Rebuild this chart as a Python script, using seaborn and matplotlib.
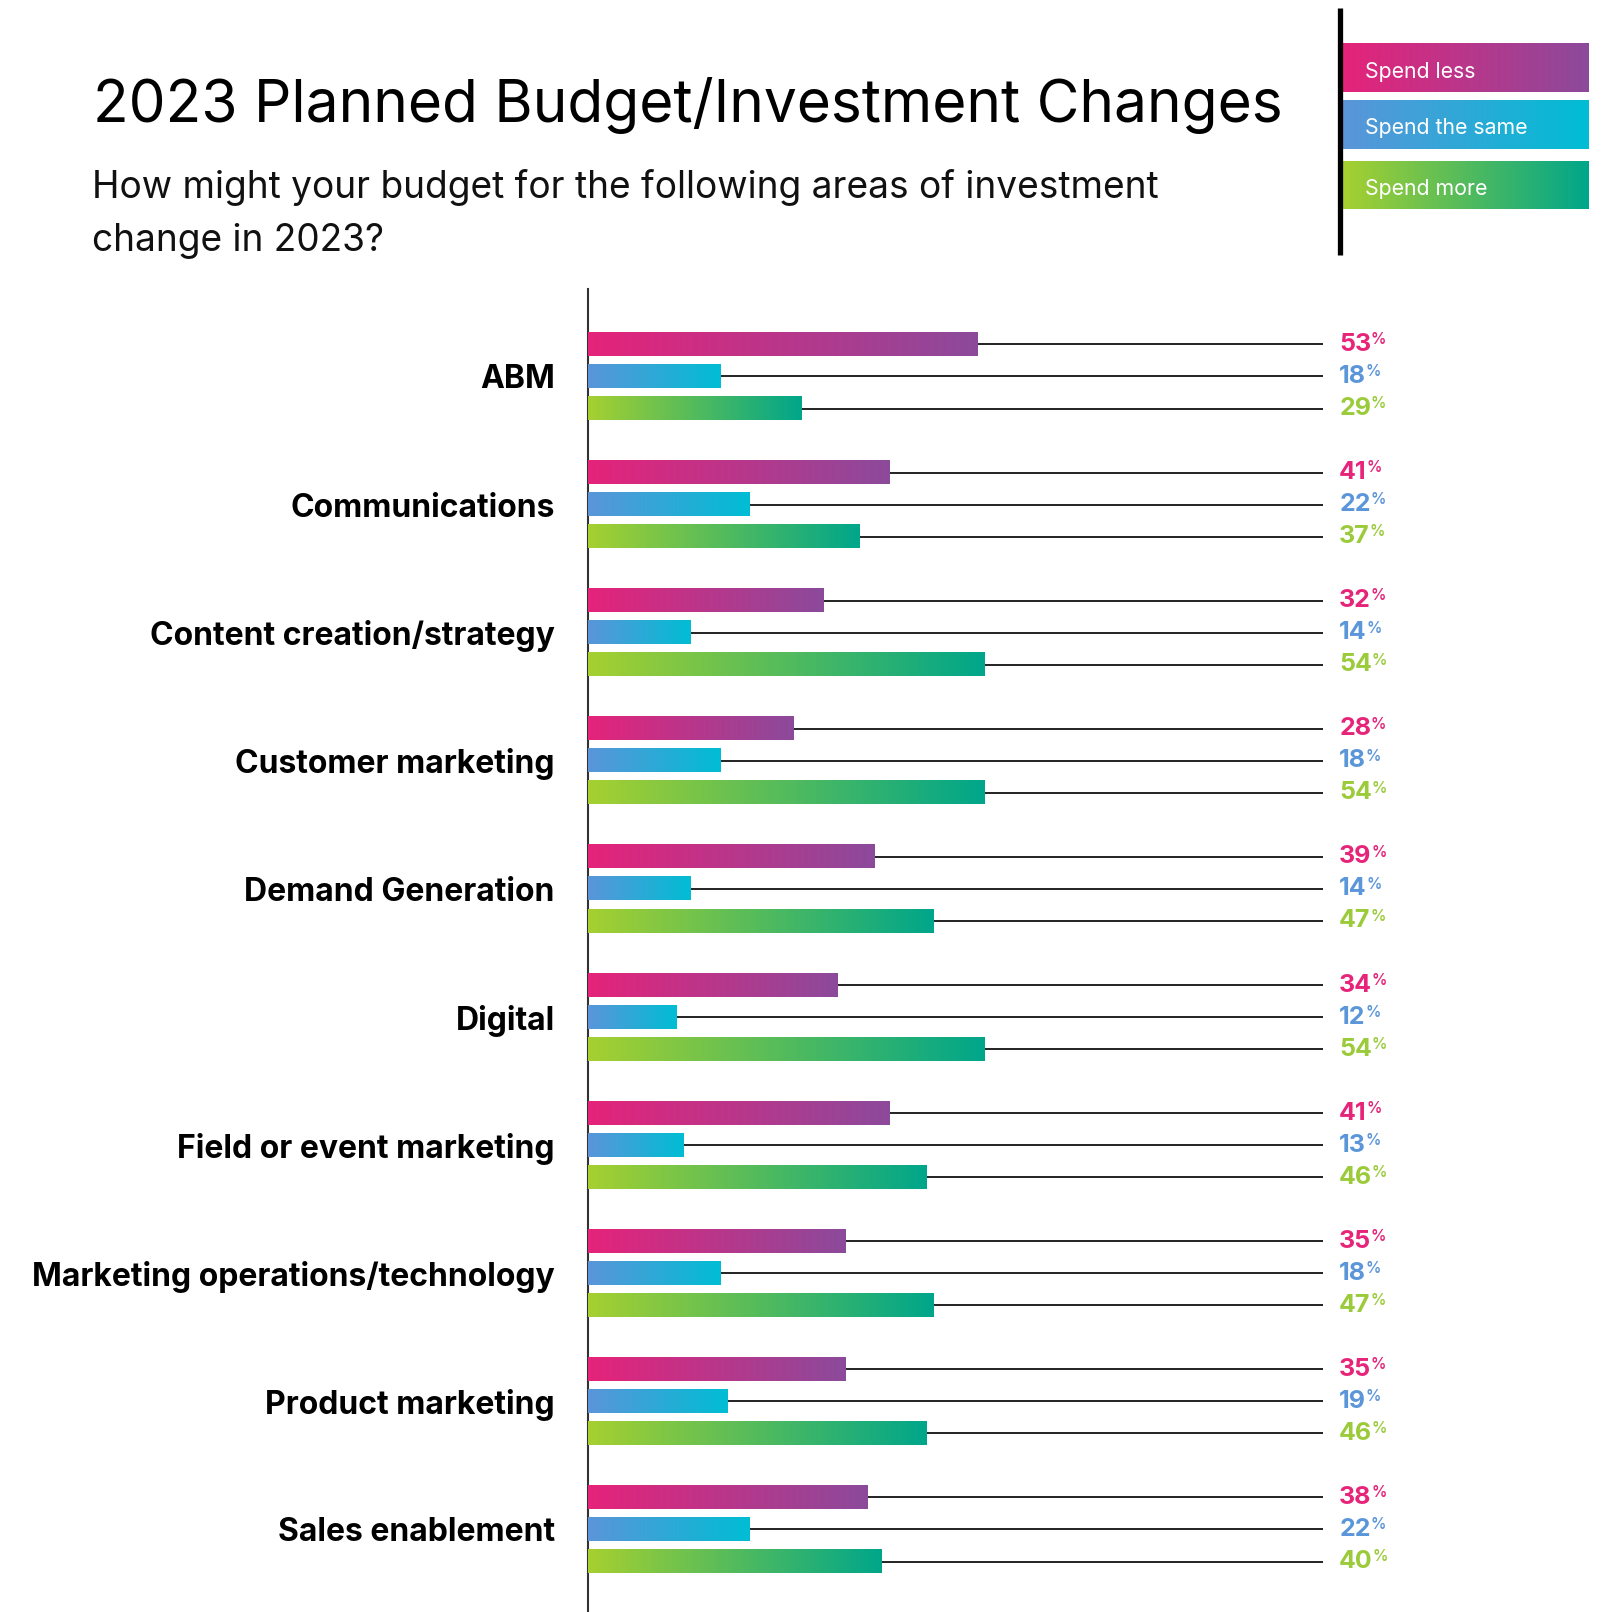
import numpy as np
import pandas as pd
import matplotlib
matplotlib.use("Agg")
import matplotlib.pyplot as plt
import matplotlib.colors as mcolors
import seaborn as sns

# ---- data ----
categories = [
    "ABM",
    "Communications",
    "Content creation/strategy",
    "Customer marketing",
    "Demand Generation",
    "Digital",
    "Field or event marketing",
    "Marketing operations/technology",
    "Product marketing",
    "Sales enablement",
]
plans = ["Spend less", "Spend the same", "Spend more"]
spend_less = [53, 41, 32, 28, 39, 34, 41, 35, 35, 38]
spend_same = [18, 22, 14, 18, 14, 12, 13, 18, 19, 22]
spend_more = [29, 37, 54, 54, 47, 54, 46, 47, 46, 40]

title = "2023 Planned Budget/Investment Changes"
subtitle_lines = ["How might your budget for the following areas of investment",
                  "change in 2023?"]

# gradient end points per plan (left -> right) and label colour
grad_start = ["#E5237A", "#5B95D9", "#A6D030"]
grad_end = ["#8C4A9B", "#00BDD4", "#00A68A"]
label_colors = ["#E6247A", "#5A96D9", "#9BCB3A"]

# ---- style ----
sns.set_style("white")
plt.rcParams["font.family"] = ["Inter", "DejaVu Sans"]

df = pd.DataFrame({
    "area": categories * 3,
    "plan": [p for p in plans for _ in categories],
    "pct": spend_less + spend_same + spend_more,
})

W, H = 1618, 1612
fig = plt.figure(figsize=(W / 100, H / 100), dpi=100)
fig.patch.set_facecolor("white")

ax_left, ax_top = 588, 289
ax = fig.add_axes([ax_left / W, 0, 1 - ax_left / W, (H - ax_top) / H])

sns.barplot(
    data=df, y="area", x="pct", hue="plan", order=categories, hue_order=plans,
    orient="h", width=0.75, gap=0.28, palette=grad_start, legend=False,
    saturation=1, ax=ax,
)


def gradient(c0, c1, n=256):
    a = np.array(mcolors.to_rgb(c0))
    b = np.array(mcolors.to_rgb(c1))
    t = np.linspace(0, 1, n)[:, None]
    return (a + (b - a) * t)[None, :, :]


grads = [gradient(a, b) for a, b in zip(grad_start, grad_end)]
start_rgb = [np.array(mcolors.to_rgb(c)) for c in grad_start]

for patch in list(ax.patches):
    fc = np.array(patch.get_facecolor()[:3])
    k = int(np.argmin([np.abs(fc - s).sum() for s in start_rgb]))
    x0 = patch.get_x()
    w = patch.get_width()
    y0 = patch.get_y()
    h = patch.get_height()
    yc = y0 + h / 2
    patch.set_alpha(0)
    ax.imshow(grads[k], extent=(x0, x0 + w, y0 + h, y0), aspect="auto",
              interpolation="bilinear", zorder=3)
    ax.hlines(yc, x0 + w, 100, color="#222222", lw=1.4, zorder=2)
    t = ax.text(102.2, yc, f"{round(w)}", color=label_colors[k], fontsize=18,
                fontweight="bold", va="center", ha="left", zorder=4)
    ax.annotate("%", xy=(1, 1), xycoords=t, xytext=(-0.3, 0.5),
                textcoords="offset points", va="top", ha="left",
                fontsize=11, fontweight="semibold", color=label_colors[k])

ax.set_xlim(0, (W - ax_left) / 7.35)
ax.set_ylim(9.644, -0.683)
ax.set_xticks([])
ax.set_yticks(range(len(categories)))
ax.set_yticklabels(categories, fontsize=23, fontweight="bold", color="black")
ax.tick_params(axis="y", length=0, pad=24)
ax.set_xlabel("")
ax.set_ylabel("")
for s in ["top", "right", "bottom"]:
    ax.spines[s].set_visible(False)
ax.spines["left"].set_color("#333333")
ax.spines["left"].set_linewidth(1.5)

# ---- header and legend, drawn in pixel coordinates ----
ov = fig.add_axes([0, 0, 1, 1], zorder=5)
ov.set_xlim(0, W)
ov.set_ylim(H, 0)
ov.axis("off")

ov.text(93, 122, title, fontsize=42.2, va="baseline", ha="left", color="black")
for line, yb in zip(subtitle_lines, [198, 251]):
    ov.text(92, yb, line, fontsize=26.7, va="baseline", ha="left",
            color="#111111")

ov.plot([1340, 1340], [8, 255], color="black", lw=3.8, solid_capstyle="butt")
legend_boxes = [(43, 92), (100, 149), (161, 209)]
for k, (y0, y1) in enumerate(legend_boxes):
    ov.imshow(grads[k], extent=(1343, 1589, y1, y0), aspect="auto",
              interpolation="bilinear")
    ov.text(1365, (y0 + y1) / 2 + 4, plans[k], color="white", fontsize=15.3,
            va="center", ha="left")
ov.set_xlim(0, W)
ov.set_ylim(H, 0)

fig.savefig("out.png", dpi=100, facecolor="white")
